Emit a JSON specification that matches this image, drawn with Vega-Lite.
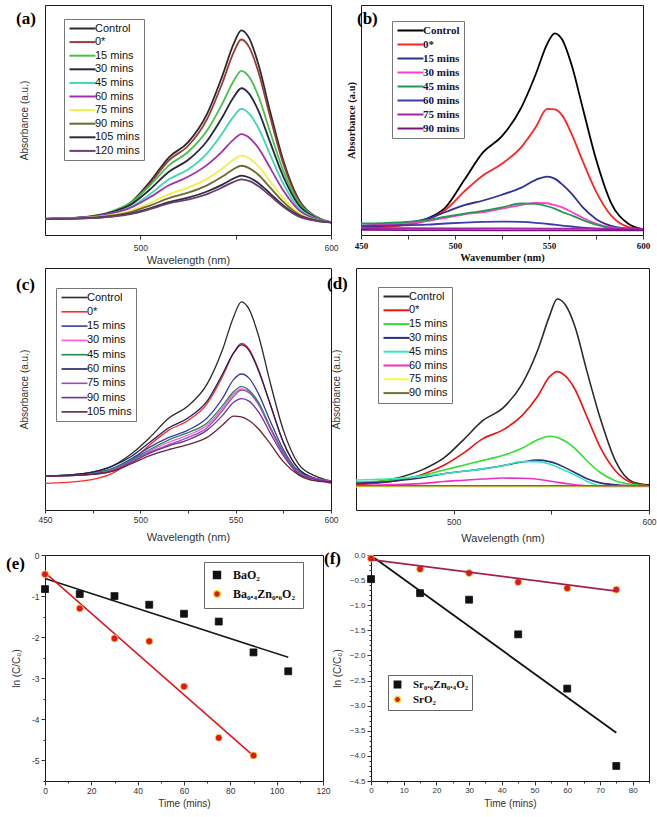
{
"$schema":"https://vega.github.io/schema/vega-lite/v6.json",
"background":"white",
"padding":{"left":5,"top":4,"right":0,"bottom":0},
"datasets":{
"a":[
{"s":"Control","w":450,"a":0.07},{"s":"Control","w":470,"a":0.076},{"s":"Control","w":485,"a":0.1},{"s":"Control","w":495,"a":0.141},{"s":"Control","w":505,"a":0.231},{"s":"Control","w":515,"a":0.338},{"s":"Control","w":525,"a":0.403},{"s":"Control","w":535,"a":0.527},{"s":"Control","w":543,"a":0.692},{"s":"Control","w":549,"a":0.832},{"s":"Control","w":553,"a":0.89},{"s":"Control","w":557,"a":0.857},{"s":"Control","w":562,"a":0.74},{"s":"Control","w":568,"a":0.539},{"s":"Control","w":575,"a":0.323},{"s":"Control","w":583,"a":0.156},{"s":"Control","w":592,"a":0.08},{"s":"Control","w":600,"a":0.055},
{"s":"0*","w":450,"a":0.07},{"s":"0*","w":470,"a":0.076},{"s":"0*","w":485,"a":0.099},{"s":"0*","w":495,"a":0.137},{"s":"0*","w":505,"a":0.223},{"s":"0*","w":515,"a":0.325},{"s":"0*","w":525,"a":0.387},{"s":"0*","w":535,"a":0.504},{"s":"0*","w":543,"a":0.661},{"s":"0*","w":549,"a":0.795},{"s":"0*","w":553,"a":0.85},{"s":"0*","w":557,"a":0.818},{"s":"0*","w":562,"a":0.707},{"s":"0*","w":568,"a":0.516},{"s":"0*","w":575,"a":0.31},{"s":"0*","w":583,"a":0.151},{"s":"0*","w":592,"a":0.079},{"s":"0*","w":600,"a":0.055},
{"s":"15 mins","w":450,"a":0.07},{"s":"15 mins","w":470,"a":0.078},{"s":"15 mins","w":485,"a":0.103},{"s":"15 mins","w":495,"a":0.141},{"s":"15 mins","w":505,"a":0.215},{"s":"15 mins","w":515,"a":0.303},{"s":"15 mins","w":525,"a":0.361},{"s":"15 mins","w":535,"a":0.454},{"s":"15 mins","w":543,"a":0.571},{"s":"15 mins","w":549,"a":0.671},{"s":"15 mins","w":553,"a":0.714},{"s":"15 mins","w":557,"a":0.688},{"s":"15 mins","w":562,"a":0.602},{"s":"15 mins","w":568,"a":0.45},{"s":"15 mins","w":575,"a":0.279},{"s":"15 mins","w":583,"a":0.141},{"s":"15 mins","w":592,"a":0.078},{"s":"15 mins","w":600,"a":0.055},
{"s":"30 mins","w":450,"a":0.07},{"s":"30 mins","w":470,"a":0.077},{"s":"30 mins","w":485,"a":0.099},{"s":"30 mins","w":495,"a":0.132},{"s":"30 mins","w":505,"a":0.198},{"s":"30 mins","w":515,"a":0.275},{"s":"30 mins","w":525,"a":0.326},{"s":"30 mins","w":535,"a":0.409},{"s":"30 mins","w":543,"a":0.512},{"s":"30 mins","w":549,"a":0.6},{"s":"30 mins","w":553,"a":0.638},{"s":"30 mins","w":557,"a":0.615},{"s":"30 mins","w":562,"a":0.539},{"s":"30 mins","w":568,"a":0.405},{"s":"30 mins","w":575,"a":0.254},{"s":"30 mins","w":583,"a":0.131},{"s":"30 mins","w":592,"a":0.075},{"s":"30 mins","w":600,"a":0.055},
{"s":"45 mins","w":450,"a":0.07},{"s":"45 mins","w":470,"a":0.075},{"s":"45 mins","w":485,"a":0.094},{"s":"45 mins","w":495,"a":0.122},{"s":"45 mins","w":505,"a":0.177},{"s":"45 mins","w":515,"a":0.242},{"s":"45 mins","w":525,"a":0.285},{"s":"45 mins","w":535,"a":0.355},{"s":"45 mins","w":543,"a":0.442},{"s":"45 mins","w":549,"a":0.516},{"s":"45 mins","w":553,"a":0.548},{"s":"45 mins","w":557,"a":0.528},{"s":"45 mins","w":562,"a":0.464},{"s":"45 mins","w":568,"a":0.351},{"s":"45 mins","w":575,"a":0.223},{"s":"45 mins","w":583,"a":0.119},{"s":"45 mins","w":592,"a":0.072},{"s":"45 mins","w":600,"a":0.055},
{"s":"60 mins","w":450,"a":0.07},{"s":"60 mins","w":470,"a":0.076},{"s":"60 mins","w":485,"a":0.094},{"s":"60 mins","w":495,"a":0.119},{"s":"60 mins","w":505,"a":0.164},{"s":"60 mins","w":515,"a":0.216},{"s":"60 mins","w":525,"a":0.253},{"s":"60 mins","w":535,"a":0.305},{"s":"60 mins","w":543,"a":0.364},{"s":"60 mins","w":549,"a":0.416},{"s":"60 mins","w":553,"a":0.439},{"s":"60 mins","w":557,"a":0.424},{"s":"60 mins","w":562,"a":0.377},{"s":"60 mins","w":568,"a":0.293},{"s":"60 mins","w":575,"a":0.193},{"s":"60 mins","w":583,"a":0.109},{"s":"60 mins","w":592,"a":0.07},{"s":"60 mins","w":600,"a":0.055},
{"s":"75 mins","w":450,"a":0.07},{"s":"75 mins","w":470,"a":0.074},{"s":"75 mins","w":485,"a":0.087},{"s":"75 mins","w":495,"a":0.106},{"s":"75 mins","w":505,"a":0.139},{"s":"75 mins","w":515,"a":0.178},{"s":"75 mins","w":525,"a":0.206},{"s":"75 mins","w":535,"a":0.244},{"s":"75 mins","w":543,"a":0.289},{"s":"75 mins","w":549,"a":0.328},{"s":"75 mins","w":553,"a":0.345},{"s":"75 mins","w":557,"a":0.334},{"s":"75 mins","w":562,"a":0.298},{"s":"75 mins","w":568,"a":0.235},{"s":"75 mins","w":575,"a":0.16},{"s":"75 mins","w":583,"a":0.096},{"s":"75 mins","w":592,"a":0.066},{"s":"75 mins","w":600,"a":0.055},
{"s":"90 mins","w":450,"a":0.07},{"s":"90 mins","w":470,"a":0.073},{"s":"90 mins","w":485,"a":0.084},{"s":"90 mins","w":495,"a":0.1},{"s":"90 mins","w":505,"a":0.128},{"s":"90 mins","w":515,"a":0.16},{"s":"90 mins","w":525,"a":0.184},{"s":"90 mins","w":535,"a":0.216},{"s":"90 mins","w":543,"a":0.254},{"s":"90 mins","w":549,"a":0.287},{"s":"90 mins","w":553,"a":0.301},{"s":"90 mins","w":557,"a":0.291},{"s":"90 mins","w":562,"a":0.261},{"s":"90 mins","w":568,"a":0.207},{"s":"90 mins","w":575,"a":0.144},{"s":"90 mins","w":583,"a":0.09},{"s":"90 mins","w":592,"a":0.065},{"s":"90 mins","w":600,"a":0.055},
{"s":"105 mins","w":450,"a":0.07},{"s":"105 mins","w":470,"a":0.072},{"s":"105 mins","w":485,"a":0.081},{"s":"105 mins","w":495,"a":0.094},{"s":"105 mins","w":505,"a":0.116},{"s":"105 mins","w":515,"a":0.143},{"s":"105 mins","w":525,"a":0.162},{"s":"105 mins","w":535,"a":0.189},{"s":"105 mins","w":543,"a":0.219},{"s":"105 mins","w":549,"a":0.246},{"s":"105 mins","w":553,"a":0.258},{"s":"105 mins","w":557,"a":0.25},{"s":"105 mins","w":562,"a":0.225},{"s":"105 mins","w":568,"a":0.181},{"s":"105 mins","w":575,"a":0.128},{"s":"105 mins","w":583,"a":0.084},{"s":"105 mins","w":592,"a":0.063},{"s":"105 mins","w":600,"a":0.055},
{"s":"120 mins","w":450,"a":0.07},{"s":"120 mins","w":470,"a":0.072},{"s":"120 mins","w":485,"a":0.08},{"s":"120 mins","w":495,"a":0.091},{"s":"120 mins","w":505,"a":0.112},{"s":"120 mins","w":515,"a":0.137},{"s":"120 mins","w":525,"a":0.154},{"s":"120 mins","w":535,"a":0.178},{"s":"120 mins","w":543,"a":0.207},{"s":"120 mins","w":549,"a":0.231},{"s":"120 mins","w":553,"a":0.242},{"s":"120 mins","w":557,"a":0.235},{"s":"120 mins","w":562,"a":0.212},{"s":"120 mins","w":568,"a":0.171},{"s":"120 mins","w":575,"a":0.123},{"s":"120 mins","w":583,"a":0.081},{"s":"120 mins","w":592,"a":0.062},{"s":"120 mins","w":600,"a":0.055}
],
"b":[
{"s":"Control","w":450,"a":0.036},{"s":"Control","w":470,"a":0.042},{"s":"Control","w":485,"a":0.07},{"s":"Control","w":495,"a":0.12},{"s":"Control","w":505,"a":0.24},{"s":"Control","w":515,"a":0.36},{"s":"Control","w":525,"a":0.43},{"s":"Control","w":535,"a":0.55},{"s":"Control","w":543,"a":0.7},{"s":"Control","w":549,"a":0.83},{"s":"Control","w":553,"a":0.877},{"s":"Control","w":557,"a":0.85},{"s":"Control","w":562,"a":0.74},{"s":"Control","w":568,"a":0.55},{"s":"Control","w":575,"a":0.33},{"s":"Control","w":583,"a":0.14},{"s":"Control","w":592,"a":0.05},{"s":"Control","w":600,"a":0.025},
{"s":"0*","w":450,"a":0.03},{"s":"0*","w":470,"a":0.04},{"s":"0*","w":485,"a":0.065},{"s":"0*","w":495,"a":0.11},{"s":"0*","w":505,"a":0.19},{"s":"0*","w":515,"a":0.26},{"s":"0*","w":525,"a":0.31},{"s":"0*","w":535,"a":0.38},{"s":"0*","w":543,"a":0.47},{"s":"0*","w":549,"a":0.548},{"s":"0*","w":553,"a":0.546},{"s":"0*","w":557,"a":0.52},{"s":"0*","w":562,"a":0.44},{"s":"0*","w":568,"a":0.32},{"s":"0*","w":575,"a":0.19},{"s":"0*","w":583,"a":0.085},{"s":"0*","w":592,"a":0.035},{"s":"0*","w":600,"a":0.025},
{"s":"15 mins","w":450,"a":0.04},{"s":"15 mins","w":470,"a":0.05},{"s":"15 mins","w":485,"a":0.07},{"s":"15 mins","w":495,"a":0.1},{"s":"15 mins","w":505,"a":0.13},{"s":"15 mins","w":515,"a":0.15},{"s":"15 mins","w":525,"a":0.175},{"s":"15 mins","w":535,"a":0.205},{"s":"15 mins","w":543,"a":0.24},{"s":"15 mins","w":549,"a":0.254},{"s":"15 mins","w":553,"a":0.245},{"s":"15 mins","w":557,"a":0.22},{"s":"15 mins","w":562,"a":0.18},{"s":"15 mins","w":568,"a":0.12},{"s":"15 mins","w":575,"a":0.07},{"s":"15 mins","w":583,"a":0.04},{"s":"15 mins","w":592,"a":0.028},{"s":"15 mins","w":600,"a":0.025},
{"s":"30 mins","w":450,"a":0.04},{"s":"30 mins","w":470,"a":0.05},{"s":"30 mins","w":485,"a":0.06},{"s":"30 mins","w":495,"a":0.075},{"s":"30 mins","w":505,"a":0.09},{"s":"30 mins","w":515,"a":0.1},{"s":"30 mins","w":525,"a":0.115},{"s":"30 mins","w":535,"a":0.13},{"s":"30 mins","w":543,"a":0.14},{"s":"30 mins","w":549,"a":0.138},{"s":"30 mins","w":553,"a":0.13},{"s":"30 mins","w":557,"a":0.12},{"s":"30 mins","w":562,"a":0.1},{"s":"30 mins","w":568,"a":0.075},{"s":"30 mins","w":575,"a":0.05},{"s":"30 mins","w":583,"a":0.033},{"s":"30 mins","w":592,"a":0.027},{"s":"30 mins","w":600,"a":0.025},
{"s":"45 mins","w":450,"a":0.05},{"s":"45 mins","w":470,"a":0.055},{"s":"45 mins","w":485,"a":0.065},{"s":"45 mins","w":495,"a":0.08},{"s":"45 mins","w":505,"a":0.093},{"s":"45 mins","w":515,"a":0.105},{"s":"45 mins","w":525,"a":0.12},{"s":"45 mins","w":535,"a":0.137},{"s":"45 mins","w":543,"a":0.135},{"s":"45 mins","w":549,"a":0.125},{"s":"45 mins","w":553,"a":0.115},{"s":"45 mins","w":557,"a":0.1},{"s":"45 mins","w":562,"a":0.085},{"s":"45 mins","w":568,"a":0.065},{"s":"45 mins","w":575,"a":0.045},{"s":"45 mins","w":583,"a":0.03},{"s":"45 mins","w":592,"a":0.025},{"s":"45 mins","w":600,"a":0.023},
{"s":"60 mins","w":450,"a":0.04},{"s":"60 mins","w":470,"a":0.042},{"s":"60 mins","w":485,"a":0.045},{"s":"60 mins","w":495,"a":0.05},{"s":"60 mins","w":505,"a":0.054},{"s":"60 mins","w":515,"a":0.057},{"s":"60 mins","w":525,"a":0.058},{"s":"60 mins","w":535,"a":0.057},{"s":"60 mins","w":543,"a":0.053},{"s":"60 mins","w":549,"a":0.048},{"s":"60 mins","w":553,"a":0.045},{"s":"60 mins","w":557,"a":0.041},{"s":"60 mins","w":562,"a":0.037},{"s":"60 mins","w":568,"a":0.032},{"s":"60 mins","w":575,"a":0.028},{"s":"60 mins","w":583,"a":0.026},{"s":"60 mins","w":592,"a":0.025},{"s":"60 mins","w":600,"a":0.025},
{"s":"75 mins","w":450,"a":0.03},{"s":"75 mins","w":500,"a":0.029},{"s":"75 mins","w":550,"a":0.028},{"s":"75 mins","w":600,"a":0.027},
{"s":"90 mins","w":450,"a":0.022},{"s":"90 mins","w":500,"a":0.021},{"s":"90 mins","w":550,"a":0.02},{"s":"90 mins","w":600,"a":0.02}
],
"c":[
{"s":"Control","w":450,"a":0.14},{"s":"Control","w":470,"a":0.15},{"s":"Control","w":485,"a":0.18},{"s":"Control","w":495,"a":0.23},{"s":"Control","w":505,"a":0.3},{"s":"Control","w":515,"a":0.38},{"s":"Control","w":525,"a":0.43},{"s":"Control","w":535,"a":0.52},{"s":"Control","w":543,"a":0.66},{"s":"Control","w":549,"a":0.8},{"s":"Control","w":553,"a":0.86},{"s":"Control","w":557,"a":0.83},{"s":"Control","w":562,"a":0.72},{"s":"Control","w":568,"a":0.53},{"s":"Control","w":575,"a":0.33},{"s":"Control","w":583,"a":0.19},{"s":"Control","w":592,"a":0.14},{"s":"Control","w":600,"a":0.12},
{"s":"0*","w":450,"a":0.11},{"s":"0*","w":470,"a":0.12},{"s":"0*","w":485,"a":0.15},{"s":"0*","w":495,"a":0.2},{"s":"0*","w":505,"a":0.27},{"s":"0*","w":515,"a":0.33},{"s":"0*","w":525,"a":0.37},{"s":"0*","w":535,"a":0.44},{"s":"0*","w":543,"a":0.55},{"s":"0*","w":549,"a":0.65},{"s":"0*","w":553,"a":0.688},{"s":"0*","w":557,"a":0.665},{"s":"0*","w":562,"a":0.58},{"s":"0*","w":568,"a":0.44},{"s":"0*","w":575,"a":0.28},{"s":"0*","w":583,"a":0.17},{"s":"0*","w":592,"a":0.13},{"s":"0*","w":600,"a":0.11},
{"s":"15 mins","w":450,"a":0.14},{"s":"15 mins","w":470,"a":0.145},{"s":"15 mins","w":485,"a":0.17},{"s":"15 mins","w":495,"a":0.21},{"s":"15 mins","w":505,"a":0.26},{"s":"15 mins","w":515,"a":0.3},{"s":"15 mins","w":525,"a":0.33},{"s":"15 mins","w":535,"a":0.38},{"s":"15 mins","w":543,"a":0.46},{"s":"15 mins","w":549,"a":0.54},{"s":"15 mins","w":553,"a":0.562},{"s":"15 mins","w":557,"a":0.545},{"s":"15 mins","w":562,"a":0.48},{"s":"15 mins","w":568,"a":0.37},{"s":"15 mins","w":575,"a":0.25},{"s":"15 mins","w":583,"a":0.16},{"s":"15 mins","w":592,"a":0.13},{"s":"15 mins","w":600,"a":0.12},
{"s":"30 mins","w":450,"a":0.14},{"s":"30 mins","w":470,"a":0.145},{"s":"30 mins","w":485,"a":0.165},{"s":"30 mins","w":495,"a":0.2},{"s":"30 mins","w":505,"a":0.245},{"s":"30 mins","w":515,"a":0.28},{"s":"30 mins","w":525,"a":0.31},{"s":"30 mins","w":535,"a":0.35},{"s":"30 mins","w":543,"a":0.42},{"s":"30 mins","w":549,"a":0.48},{"s":"30 mins","w":553,"a":0.5},{"s":"30 mins","w":557,"a":0.49},{"s":"30 mins","w":562,"a":0.44},{"s":"30 mins","w":568,"a":0.34},{"s":"30 mins","w":575,"a":0.235},{"s":"30 mins","w":583,"a":0.155},{"s":"30 mins","w":592,"a":0.13},{"s":"30 mins","w":600,"a":0.12},
{"s":"45 mins","w":450,"a":0.14},{"s":"45 mins","w":470,"a":0.15},{"s":"45 mins","w":485,"a":0.17},{"s":"45 mins","w":495,"a":0.205},{"s":"45 mins","w":505,"a":0.25},{"s":"45 mins","w":515,"a":0.29},{"s":"45 mins","w":525,"a":0.32},{"s":"45 mins","w":535,"a":0.36},{"s":"45 mins","w":543,"a":0.43},{"s":"45 mins","w":549,"a":0.49},{"s":"45 mins","w":553,"a":0.51},{"s":"45 mins","w":557,"a":0.495},{"s":"45 mins","w":562,"a":0.445},{"s":"45 mins","w":568,"a":0.345},{"s":"45 mins","w":575,"a":0.24},{"s":"45 mins","w":583,"a":0.16},{"s":"45 mins","w":592,"a":0.13},{"s":"45 mins","w":600,"a":0.12},
{"s":"60 mins","w":450,"a":0.14},{"s":"60 mins","w":470,"a":0.15},{"s":"60 mins","w":485,"a":0.18},{"s":"60 mins","w":495,"a":0.22},{"s":"60 mins","w":505,"a":0.28},{"s":"60 mins","w":515,"a":0.34},{"s":"60 mins","w":525,"a":0.38},{"s":"60 mins","w":535,"a":0.45},{"s":"60 mins","w":543,"a":0.56},{"s":"60 mins","w":549,"a":0.65},{"s":"60 mins","w":553,"a":0.682},{"s":"60 mins","w":557,"a":0.66},{"s":"60 mins","w":562,"a":0.575},{"s":"60 mins","w":568,"a":0.44},{"s":"60 mins","w":575,"a":0.28},{"s":"60 mins","w":583,"a":0.17},{"s":"60 mins","w":592,"a":0.13},{"s":"60 mins","w":600,"a":0.12},
{"s":"75 mins","w":450,"a":0.14},{"s":"75 mins","w":470,"a":0.145},{"s":"75 mins","w":485,"a":0.165},{"s":"75 mins","w":495,"a":0.2},{"s":"75 mins","w":505,"a":0.24},{"s":"75 mins","w":515,"a":0.27},{"s":"75 mins","w":525,"a":0.3},{"s":"75 mins","w":535,"a":0.34},{"s":"75 mins","w":543,"a":0.41},{"s":"75 mins","w":549,"a":0.47},{"s":"75 mins","w":553,"a":0.495},{"s":"75 mins","w":557,"a":0.485},{"s":"75 mins","w":562,"a":0.435},{"s":"75 mins","w":568,"a":0.34},{"s":"75 mins","w":575,"a":0.235},{"s":"75 mins","w":583,"a":0.155},{"s":"75 mins","w":592,"a":0.13},{"s":"75 mins","w":600,"a":0.12},
{"s":"90 mins","w":450,"a":0.14},{"s":"90 mins","w":470,"a":0.145},{"s":"90 mins","w":485,"a":0.16},{"s":"90 mins","w":495,"a":0.195},{"s":"90 mins","w":505,"a":0.235},{"s":"90 mins","w":515,"a":0.265},{"s":"90 mins","w":525,"a":0.29},{"s":"90 mins","w":535,"a":0.33},{"s":"90 mins","w":543,"a":0.39},{"s":"90 mins","w":549,"a":0.445},{"s":"90 mins","w":553,"a":0.46},{"s":"90 mins","w":557,"a":0.45},{"s":"90 mins","w":562,"a":0.405},{"s":"90 mins","w":568,"a":0.32},{"s":"90 mins","w":575,"a":0.225},{"s":"90 mins","w":583,"a":0.15},{"s":"90 mins","w":592,"a":0.125},{"s":"90 mins","w":600,"a":0.115},
{"s":"105 mins","w":450,"a":0.14},{"s":"105 mins","w":470,"a":0.145},{"s":"105 mins","w":485,"a":0.16},{"s":"105 mins","w":495,"a":0.19},{"s":"105 mins","w":505,"a":0.225},{"s":"105 mins","w":515,"a":0.25},{"s":"105 mins","w":525,"a":0.27},{"s":"105 mins","w":535,"a":0.3},{"s":"105 mins","w":543,"a":0.35},{"s":"105 mins","w":549,"a":0.388},{"s":"105 mins","w":553,"a":0.385},{"s":"105 mins","w":557,"a":0.37},{"s":"105 mins","w":562,"a":0.335},{"s":"105 mins","w":568,"a":0.275},{"s":"105 mins","w":575,"a":0.2},{"s":"105 mins","w":583,"a":0.145},{"s":"105 mins","w":592,"a":0.12},{"s":"105 mins","w":600,"a":0.115}
],
"d":[
{"s":"Control","w":450,"a":0.107},{"s":"Control","w":470,"a":0.13},{"s":"Control","w":485,"a":0.17},{"s":"Control","w":495,"a":0.215},{"s":"Control","w":505,"a":0.29},{"s":"Control","w":515,"a":0.37},{"s":"Control","w":525,"a":0.42},{"s":"Control","w":535,"a":0.52},{"s":"Control","w":543,"a":0.66},{"s":"Control","w":549,"a":0.8},{"s":"Control","w":553,"a":0.872},{"s":"Control","w":557,"a":0.85},{"s":"Control","w":562,"a":0.76},{"s":"Control","w":568,"a":0.58},{"s":"Control","w":575,"a":0.38},{"s":"Control","w":583,"a":0.2},{"s":"Control","w":592,"a":0.115},{"s":"Control","w":600,"a":0.104},
{"s":"0*","w":450,"a":0.105},{"s":"0*","w":470,"a":0.12},{"s":"0*","w":485,"a":0.15},{"s":"0*","w":495,"a":0.185},{"s":"0*","w":505,"a":0.235},{"s":"0*","w":515,"a":0.295},{"s":"0*","w":525,"a":0.33},{"s":"0*","w":535,"a":0.39},{"s":"0*","w":543,"a":0.47},{"s":"0*","w":549,"a":0.55},{"s":"0*","w":553,"a":0.572},{"s":"0*","w":557,"a":0.555},{"s":"0*","w":562,"a":0.5},{"s":"0*","w":568,"a":0.39},{"s":"0*","w":575,"a":0.26},{"s":"0*","w":583,"a":0.16},{"s":"0*","w":592,"a":0.11},{"s":"0*","w":600,"a":0.1},
{"s":"15 mins","w":450,"a":0.115},{"s":"15 mins","w":470,"a":0.125},{"s":"15 mins","w":485,"a":0.145},{"s":"15 mins","w":495,"a":0.165},{"s":"15 mins","w":505,"a":0.185},{"s":"15 mins","w":515,"a":0.205},{"s":"15 mins","w":525,"a":0.225},{"s":"15 mins","w":535,"a":0.255},{"s":"15 mins","w":543,"a":0.29},{"s":"15 mins","w":549,"a":0.305},{"s":"15 mins","w":553,"a":0.3},{"s":"15 mins","w":557,"a":0.285},{"s":"15 mins","w":562,"a":0.255},{"s":"15 mins","w":568,"a":0.205},{"s":"15 mins","w":575,"a":0.155},{"s":"15 mins","w":583,"a":0.12},{"s":"15 mins","w":592,"a":0.105},{"s":"15 mins","w":600,"a":0.1},
{"s":"30 mins","w":450,"a":0.11},{"s":"30 mins","w":470,"a":0.12},{"s":"30 mins","w":485,"a":0.135},{"s":"30 mins","w":495,"a":0.15},{"s":"30 mins","w":505,"a":0.16},{"s":"30 mins","w":515,"a":0.17},{"s":"30 mins","w":525,"a":0.183},{"s":"30 mins","w":535,"a":0.198},{"s":"30 mins","w":543,"a":0.206},{"s":"30 mins","w":549,"a":0.2},{"s":"30 mins","w":553,"a":0.19},{"s":"30 mins","w":557,"a":0.175},{"s":"30 mins","w":562,"a":0.155},{"s":"30 mins","w":568,"a":0.13},{"s":"30 mins","w":575,"a":0.112},{"s":"30 mins","w":583,"a":0.104},{"s":"30 mins","w":592,"a":0.1},{"s":"30 mins","w":600,"a":0.1},
{"s":"45 mins","w":450,"a":0.124},{"s":"45 mins","w":470,"a":0.13},{"s":"45 mins","w":485,"a":0.14},{"s":"45 mins","w":495,"a":0.15},{"s":"45 mins","w":505,"a":0.16},{"s":"45 mins","w":515,"a":0.17},{"s":"45 mins","w":525,"a":0.182},{"s":"45 mins","w":535,"a":0.2},{"s":"45 mins","w":543,"a":0.2},{"s":"45 mins","w":549,"a":0.19},{"s":"45 mins","w":553,"a":0.178},{"s":"45 mins","w":557,"a":0.163},{"s":"45 mins","w":562,"a":0.145},{"s":"45 mins","w":568,"a":0.12},{"s":"45 mins","w":575,"a":0.1},{"s":"45 mins","w":583,"a":0.095},{"s":"45 mins","w":592,"a":0.095},{"s":"45 mins","w":600,"a":0.095},
{"s":"60 mins","w":450,"a":0.1},{"s":"60 mins","w":470,"a":0.105},{"s":"60 mins","w":485,"a":0.11},{"s":"60 mins","w":495,"a":0.118},{"s":"60 mins","w":505,"a":0.123},{"s":"60 mins","w":515,"a":0.128},{"s":"60 mins","w":525,"a":0.132},{"s":"60 mins","w":535,"a":0.131},{"s":"60 mins","w":543,"a":0.127},{"s":"60 mins","w":549,"a":0.12},{"s":"60 mins","w":553,"a":0.115},{"s":"60 mins","w":557,"a":0.11},{"s":"60 mins","w":562,"a":0.104},{"s":"60 mins","w":568,"a":0.1},{"s":"60 mins","w":575,"a":0.098},{"s":"60 mins","w":583,"a":0.098},{"s":"60 mins","w":592,"a":0.098},{"s":"60 mins","w":600,"a":0.098},
{"s":"75 mins","w":450,"a":0.096},{"s":"75 mins","w":500,"a":0.095},{"s":"75 mins","w":550,"a":0.095},{"s":"75 mins","w":600,"a":0.094},
{"s":"90 mins","w":450,"a":0.1},{"s":"90 mins","w":500,"a":0.1},{"s":"90 mins","w":550,"a":0.1},{"s":"90 mins","w":600,"a":0.1}
],
"ep":[
{"s":"BaO₂","t":0,"v":-0.83},{"s":"BaO₂","t":15,"v":-0.95},{"s":"BaO₂","t":30,"v":-1.0},{"s":"BaO₂","t":45,"v":-1.21},{"s":"BaO₂","t":60,"v":-1.43},{"s":"BaO₂","t":75,"v":-1.62},{"s":"BaO₂","t":90,"v":-2.37},{"s":"BaO₂","t":105,"v":-2.83},
{"s":"Ba₀.₄Zn₀.₆O₂","t":0,"v":-0.47},{"s":"Ba₀.₄Zn₀.₆O₂","t":15,"v":-1.3},{"s":"Ba₀.₄Zn₀.₆O₂","t":30,"v":-2.03},{"s":"Ba₀.₄Zn₀.₆O₂","t":45,"v":-2.1},{"s":"Ba₀.₄Zn₀.₆O₂","t":60,"v":-3.2},{"s":"Ba₀.₄Zn₀.₆O₂","t":75,"v":-4.45},{"s":"Ba₀.₄Zn₀.₆O₂","t":90,"v":-4.88}
],
"ef":[
{"s":"BaO₂","t":0,"v":-0.57},{"s":"BaO₂","t":105,"v":-2.49},
{"s":"Ba₀.₄Zn₀.₆O₂","t":0,"v":-0.43},{"s":"Ba₀.₄Zn₀.₆O₂","t":90,"v":-4.89}
],
"fp":[
{"s":"Sr₀.₆Zn₀.₄O₂","t":0,"v":-0.48},{"s":"Sr₀.₆Zn₀.₄O₂","t":15,"v":-0.76},{"s":"Sr₀.₆Zn₀.₄O₂","t":30,"v":-0.89},{"s":"Sr₀.₆Zn₀.₄O₂","t":45,"v":-1.58},{"s":"Sr₀.₆Zn₀.₄O₂","t":60,"v":-2.66},{"s":"Sr₀.₆Zn₀.₄O₂","t":75,"v":-4.2},
{"s":"SrO₂","t":0,"v":-0.07},{"s":"SrO₂","t":15,"v":-0.28},{"s":"SrO₂","t":30,"v":-0.36},{"s":"SrO₂","t":45,"v":-0.54},{"s":"SrO₂","t":60,"v":-0.66},{"s":"SrO₂","t":75,"v":-0.69}
],
"ff":[
{"s":"Sr₀.₆Zn₀.₄O₂","t":0,"v":-0.01},{"s":"Sr₀.₆Zn₀.₄O₂","t":75,"v":-3.54},
{"s":"SrO₂","t":0,"v":-0.09},{"s":"SrO₂","t":75,"v":-0.72}
]
},
"config":{
"font":"Liberation Sans",
"view":{"stroke":"#1a1a1a","strokeWidth":1},
"axis":{"grid":false,"domain":false,"tickColor":"#333","labelColor":"#333","titleColor":"#333","labelFont":"Liberation Sans","titleFont":"Liberation Sans","titleFontWeight":"normal","tickSize":3,"labelPadding":3,"labelFontSize":8.5,"titleFontSize":10.5},
"axisX":{"labelFlush":false},
"legend":{"labelColor":"#111","strokeColor":"#777","fillColor":"white"},
"title":{"anchor":"start","frame":"group","orient":"top","baseline":"top","font":"Liberation Serif","fontSize":17,"fontWeight":"bold","color":"#000"}
},
"spacing":5,
"resolve":{"scale":{"color":"independent","shape":"independent","stroke":"independent"},"legend":{"color":"independent","shape":"independent"}},
"vconcat":[
{"spacing":1,
"resolve":{"scale":{"color":"independent","shape":"independent","stroke":"independent"},"legend":{"color":"independent","shape":"independent"}},
"vconcat":[
{"bounds":"flush","spacing":30,
"resolve":{"scale":{"color":"independent"},"legend":{"color":"independent"}},
"hconcat":[
{"width":286,"height":230,
"title":{"text":"(a)","dx":-29,"offset":-23},
"encoding":{"x":{"field":"w","type":"quantitative","scale":{"domain":[450,600],"nice":false,"zero":false},"axis":{"title":"Wavelength (nm)","values":[500,550,600],"labelExpr":"datum.value == 550 ? '' : datum.label","tickSize":4,"labelPadding":4,"titlePadding":3,"titleFontSize":11}},
"y":{"field":"a","type":"quantitative","scale":{"domain":[0,1],"nice":false,"zero":false},"axis":{"title":"Absorbance (a.u.)","labels":false,"ticks":false,"titlePadding":16,"titleFontSize":10}}},
"layer":[
{"data":{"name":"a"},"mark":{"type":"line","interpolate":"monotone","strokeWidth":1.8},
"encoding":{"color":{"field":"s","type":"nominal","scale":{"domain":["Control","0*","15 mins","30 mins","45 mins","60 mins","75 mins","90 mins","105 mins","120 mins"],"range":["#2b2b2b","#9a3b38","#45c14a","#27293f","#3fd7b1","#a22fae","#f1ef4f","#6b6b2e","#2d2d3b","#6c3f72"]},
"legend":{"title":null,"orient":"none","legendX":19,"legendY":14,"symbolType":"M-1,0H5.5","symbolSize":64,"symbolStrokeWidth":2,"labelFont":"Liberation Sans","labelFontSize":11,"labelOffset":16,"rowPadding":1.6,"padding":4}}}},
{"data":{"values":[{}]},"mark":{"type":"text","font":"Liberation Sans","fontSize":17,"align":"center","baseline":"middle","color":"#111"},
"encoding":{"x":{"datum":575},"y":{"datum":0.917},"text":{"value":"BaO₂"}}}
]},
{"width":282,"height":230,
"title":{"text":"(b)","dx":-4,"offset":-23},
"encoding":{"x":{"field":"w","type":"quantitative","scale":{"domain":[450,600],"nice":false,"zero":false},"axis":{"title":"Wavenumber (nm)","values":[450,475,500,525,550,575,600],"labelExpr":"datum.value % 50 == 0 ? datum.label : ''","tickSize":4,"labelPadding":2,"titlePadding":2,"labelFont":"Liberation Serif","labelFontWeight":"bold","labelFontSize":9,"labelColor":"#111","titleFont":"Liberation Serif","titleFontWeight":"bold","titleFontSize":10.5,"titleColor":"#111"}},
"y":{"field":"a","type":"quantitative","scale":{"domain":[0,1],"nice":false,"zero":false},"axis":{"title":"Absorbance (a.u)","labels":false,"ticks":false,"titlePadding":5,"titleFont":"Liberation Serif","titleFontWeight":"bold","titleFontSize":10.5,"titleColor":"#111"}}},
"layer":[
{"data":{"name":"b"},"mark":{"type":"line","interpolate":"monotone","strokeWidth":1.8},
"encoding":{"color":{"field":"s","type":"nominal","scale":{"domain":["Control","0*","15 mins","30 mins","45 mins","60 mins","75 mins","90 mins"],"range":["#000000","#ff2424","#2f2f9c","#ff3fcc","#1f9a52","#3b3bb0","#a624a6","#7a127e"]},
"legend":{"title":null,"orient":"none","legendX":31,"legendY":16,"symbolType":"M-1,0H5.5","symbolSize":64,"symbolStrokeWidth":2,"labelFont":"Liberation Serif","labelFontWeight":"bold","labelFontSize":11,"labelColor":"#14143c","labelOffset":16,"rowPadding":2,"padding":4}}}},
{"data":{"values":[{}]},"mark":{"type":"text","font":"Liberation Sans","fontSize":17,"align":"center","baseline":"middle","color":"#111"},
"encoding":{"x":{"datum":567},"y":{"datum":0.94},"text":{"value":"Ba₀.₄Zn₀.₆O₂"}}},
{"data":{"values":[{}]},"mark":{"type":"rule","color":"#333","strokeWidth":1},
"encoding":{"x":{"datum":585.7},"y":{"datum":0.865},"y2":{"datum":0.236}}},
{"data":{"values":[{}]},"mark":{"type":"point","shape":"triangle-down","filled":true,"color":"#333","size":28,"opacity":1},
"encoding":{"x":{"datum":585.7},"y":{"datum":0.236}}}
]}
]},
{"bounds":"flush","spacing":25,
"resolve":{"scale":{"color":"independent"},"legend":{"color":"independent"}},
"hconcat":[
{"width":286,"height":242,
"title":{"text":"(c)","dx":-29,"offset":-26},
"encoding":{"x":{"field":"w","type":"quantitative","scale":{"domain":[450,600],"nice":false,"zero":false},"axis":{"title":"Wavelength (nm)","values":[450,475,500,525,550,575,600],"labelExpr":"datum.value % 50 == 0 ? datum.label : ''","tickSize":3,"labelPadding":2,"titlePadding":8,"titleFontSize":11}},
"y":{"field":"a","type":"quantitative","scale":{"domain":[0,1],"nice":false,"zero":false},"axis":{"title":"Absorbance (a.u.)","labels":false,"ticks":false,"titlePadding":16,"titleFontSize":10}}},
"layer":[
{"data":{"name":"c"},"mark":{"type":"line","interpolate":"monotone","strokeWidth":1.3},
"encoding":{"color":{"field":"s","type":"nominal","scale":{"domain":["Control","0*","15 mins","30 mins","45 mins","60 mins","75 mins","90 mins","105 mins"],"range":["#2b2b2b","#ff2a2a","#3b3ba5","#ff55d6","#1f8a55","#1e1e5e","#9452b5","#6f2fa0","#6b2232"]},
"legend":{"title":null,"orient":"none","legendX":11,"legendY":20,"symbolType":"M-1,0H5.5","symbolSize":64,"symbolStrokeWidth":1.6,"labelFont":"Liberation Sans","labelFontSize":11,"labelOffset":16,"rowPadding":2.3,"padding":4}}}},
{"data":{"values":[{}]},"mark":{"type":"text","font":"Liberation Sans","fontSize":17,"align":"center","baseline":"middle","color":"#111"},
"encoding":{"x":{"datum":567.5},"y":{"datum":0.909},"text":{"value":"SrO₂"}}},
{"data":{"values":[{}]},"mark":{"type":"rule","color":"#333","strokeWidth":1},
"encoding":{"x":{"datum":591},"y":{"datum":0.84},"y2":{"datum":0.168}}},
{"data":{"values":[{}]},"mark":{"type":"point","shape":"triangle-down","filled":true,"color":"#333","size":28,"opacity":1},
"encoding":{"x":{"datum":591},"y":{"datum":0.168}}}
]},
{"width":293,"height":242,
"title":{"text":"(d)","dx":-29,"offset":-25},
"encoding":{"x":{"field":"w","type":"quantitative","scale":{"domain":[450,600],"nice":false,"zero":false},"axis":{"title":"Wavelength (nm)","values":[500,550,600],"labelExpr":"datum.value == 550 ? '' : datum.label","tickSize":4,"labelPadding":3,"titlePadding":7,"titleFontSize":11}},
"y":{"field":"a","type":"quantitative","scale":{"domain":[0,1],"nice":false,"zero":false},"axis":{"title":"Absorbance (a.u.)","labels":false,"ticks":false,"titlePadding":15,"titleFontSize":10}}},
"layer":[
{"data":{"name":"d"},"mark":{"type":"line","interpolate":"monotone","strokeWidth":1.6},
"encoding":{"color":{"field":"s","type":"nominal","scale":{"domain":["Control","0*","15 mins","30 mins","45 mins","60 mins","75 mins","90 mins"],"range":["#2b2b2b","#ee1212","#35dd35","#2e2e82","#35e8b5","#ee2ec8","#f8f840","#707030"]},
"legend":{"title":null,"orient":"none","legendX":22,"legendY":19,"symbolType":"M-1,0H5.5","symbolSize":64,"symbolStrokeWidth":2,"labelFont":"Liberation Sans","labelFontSize":11,"labelOffset":16,"rowPadding":1.8,"padding":4}}}},
{"data":{"values":[{}]},"mark":{"type":"text","font":"Liberation Sans","fontSize":17,"align":"center","baseline":"middle","color":"#111"},
"encoding":{"x":{"datum":567.2},"y":{"datum":0.909},"text":{"value":"Sr₀.₆Zn₀.₄O₂"}}},
{"data":{"values":[{}]},"mark":{"type":"rule","color":"#333","strokeWidth":1},
"encoding":{"x":{"datum":592.9},"y":{"datum":0.84},"y2":{"datum":0.13}}},
{"data":{"values":[{}]},"mark":{"type":"point","shape":"triangle-down","filled":true,"color":"#333","size":28,"opacity":1},
"encoding":{"x":{"datum":592.9},"y":{"datum":0.13}}}
]}
]}
]},
{"bounds":"flush","spacing":48,
"resolve":{"scale":{"color":"independent","shape":"independent","stroke":"independent"},"legend":{"color":"independent","shape":"independent"}},
"hconcat":[
{"width":278,"height":226,
"title":{"text":"(e)","dx":-39,"offset":-22},
"encoding":{"x":{"field":"t","type":"quantitative","scale":{"domain":[0,120],"nice":false},"axis":{"title":"Time (mins)","values":[0,10,20,30,40,50,60,70,80,90,100,110,120],"labelExpr":"datum.value % 20 == 0 ? datum.label : ''","tickSize":{"condition":{"test":"datum.value % 20 != 0","value":2},"value":4},"labelPadding":1,"titlePadding":4,"labelFontSize":8.5,"titleFontSize":10}},
"y":{"field":"v","type":"quantitative","scale":{"domain":[-5.5,0],"nice":false,"zero":false},"axis":{"title":"ln (C/C₀)","values":[-5.5,-5,-4.5,-4,-3.5,-3,-2.5,-2,-1.5,-1,-0.5,0],"labelExpr":"datum.value % 1 == 0 ? toString(datum.value) : ''","labelOverlap":false,"tickSize":{"condition":{"test":"datum.value % 1 != 0","value":2},"value":4},"labelPadding":2,"titlePadding":10,"labelFontSize":8.5,"titleFontSize":10}}},
"layer":[
{"data":{"name":"ef"},"transform":[{"filter":"datum.s == 'BaO₂'"}],"mark":{"type":"line","color":"#1a1a1a","strokeWidth":1.5}},
{"data":{"name":"ef"},"transform":[{"filter":"datum.s != 'BaO₂'"}],"mark":{"type":"line","color":"#e3141b","strokeWidth":1.5}},
{"data":{"name":"ep"},"mark":{"type":"point","filled":true,"size":48,"opacity":1,"strokeWidth":0.8},
"encoding":{
"color":{"field":"s","type":"nominal","scale":{"domain":["BaO₂","Ba₀.₄Zn₀.₆O₂"],"range":["#111111","#e3141b"]},"legend":{"title":null,"orient":"none","legendX":159,"legendY":7,"labelFont":"Liberation Serif","labelFontWeight":"bold","labelFontSize":12,"symbolSize":48,"labelOffset":10,"rowPadding":5,"padding":7,"strokeColor":"#666"}},
"shape":{"field":"s","type":"nominal","scale":{"domain":["BaO₂","Ba₀.₄Zn₀.₆O₂"],"range":["square","circle"]},"legend":{"title":null,"orient":"none","legendX":159,"legendY":7,"labelFont":"Liberation Serif","labelFontWeight":"bold","labelFontSize":12,"symbolSize":48,"labelOffset":10,"rowPadding":5,"padding":7,"strokeColor":"#666"}},
"stroke":{"field":"s","type":"nominal","scale":{"domain":["BaO₂","Ba₀.₄Zn₀.₆O₂"],"range":["#111111","#f2dc3a"]},"legend":null}}}
]},
{"width":278,"height":226,
"title":{"text":"(f)","dx":-47,"offset":-17},
"encoding":{"x":{"field":"t","type":"quantitative","scale":{"domain":[0,85],"nice":false},"axis":{"title":"Time (mins)","values":[0,5,10,15,20,25,30,35,40,45,50,55,60,65,70,75,80,85],"labelExpr":"datum.value % 10 == 0 ? datum.label : ''","tickSize":{"condition":{"test":"datum.value % 10 != 0","value":2},"value":4},"labelPadding":1,"titlePadding":4,"labelFontSize":8,"titleFontSize":10}},
"y":{"field":"v","type":"quantitative","scale":{"domain":[-4.5,0],"nice":false,"zero":false},"axis":{"title":"ln (C/C₀)","values":[-4.5,-4.4,-4.3,-4.2,-4.1,-4,-3.9,-3.8,-3.7,-3.6,-3.5,-3.4,-3.3,-3.2,-3.1,-3,-2.9,-2.8,-2.7,-2.6,-2.5,-2.4,-2.3,-2.2,-2.1,-2,-1.9,-1.8,-1.7,-1.6,-1.5,-1.4,-1.3,-1.2,-1.1,-1,-0.9,-0.8,-0.7,-0.6,-0.5,-0.4,-0.3,-0.2,-0.1,0],"format":".1f","labelExpr":"abs(round(datum.value*10)) % 5 == 0 ? datum.label : ''","labelOverlap":false,"tickSize":{"condition":{"test":"abs(round(datum.value*10)) % 5 != 0","value":2},"value":4},"labelPadding":2,"titlePadding":7,"labelFontSize":8,"titleFontSize":10}}},
"layer":[
{"data":{"name":"ff"},"transform":[{"filter":"datum.s != 'SrO₂'"}],"mark":{"type":"line","color":"#111111","strokeWidth":1.8}},
{"data":{"name":"fp"},"mark":{"type":"point","filled":true,"size":48,"opacity":1,"strokeWidth":0.8},
"encoding":{
"color":{"field":"s","type":"nominal","scale":{"domain":["Sr₀.₆Zn₀.₄O₂","SrO₂"],"range":["#111111","#e3141b"]},"legend":{"title":null,"orient":"none","legendX":17,"legendY":120,"labelFont":"Liberation Serif","labelFontWeight":"bold","labelFontSize":11,"symbolSize":40,"labelOffset":10,"rowPadding":2,"padding":4,"strokeColor":"#666"}},
"shape":{"field":"s","type":"nominal","scale":{"domain":["Sr₀.₆Zn₀.₄O₂","SrO₂"],"range":["square","circle"]},"legend":{"title":null,"orient":"none","legendX":17,"legendY":120,"labelFont":"Liberation Serif","labelFontWeight":"bold","labelFontSize":11,"symbolSize":40,"labelOffset":10,"rowPadding":2,"padding":4,"strokeColor":"#666"}},
"stroke":{"field":"s","type":"nominal","scale":{"domain":["Sr₀.₆Zn₀.₄O₂","SrO₂"],"range":["#111111","#f2dc3a"]},"legend":null}}},
{"data":{"name":"ff"},"transform":[{"filter":"datum.s == 'SrO₂'"}],"mark":{"type":"line","color":"#a8204a","strokeWidth":1.8}}
]}
]}
]
}
